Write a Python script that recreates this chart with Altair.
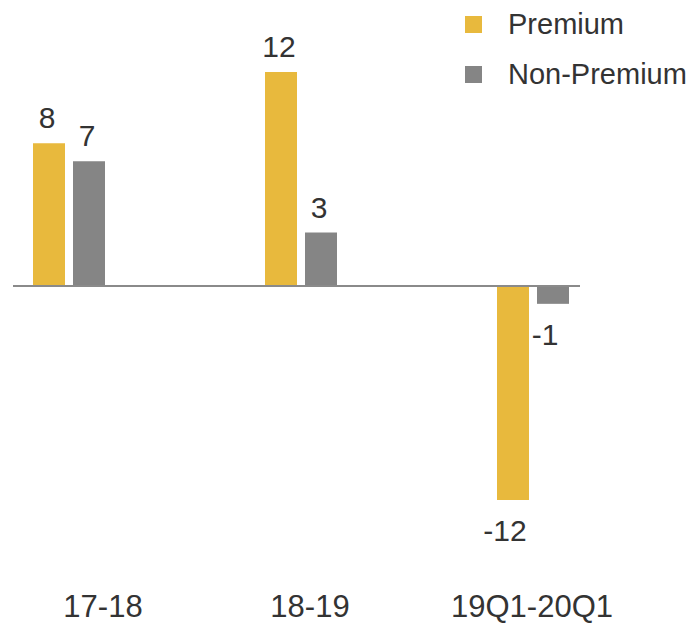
import altair as alt
import pandas as pd

categories = ["17-18", "18-19", "19Q1-20Q1"]
series = ["Premium", "Non-Premium"]
premium = [8, 12, -12]
non_premium = [7, 3, -1]
colors = ["#E8B93D", "#858585"]

rows = []
for c, p, n in zip(categories, premium, non_premium):
    rows.append({"cat": c, "series": "Premium", "value": p})
    rows.append({"cat": c, "series": "Non-Premium", "value": n})
df = pd.DataFrame(rows)

FONT = "Liberation Sans"
TEXT = "#333333"

# step 232 px, band 72 px (two 32 px bars with 8 px gap)
PI = 160 / 232
xs = alt.Scale(domain=categories, range=[-47, 649], paddingInner=PI, paddingOuter=PI / 2)
xo = alt.Scale(domain=series, paddingInner=0.2, paddingOuter=0)
ys = alt.Scale(domain=[-12, 12], range=[500, 72], nice=False)

base = alt.Chart(df).encode(
    x=alt.X("cat:N", scale=xs, axis=None, sort=categories),
    xOffset=alt.XOffset("series:N", scale=xo, sort=series),
    y=alt.Y("value:Q", scale=ys, axis=None),
)

bars = base.mark_bar().encode(
    color=alt.Color(
        "series:N",
        scale=alt.Scale(domain=series, range=colors),
        sort=series,
        legend=alt.Legend(
            orient="none",
            legendX=459,
            legendY=10,
            title=None,
            symbolType="square",
            symbolSize=289,
            symbolStrokeWidth=0,
            symbolOpacity=1,
            labelFont=FONT,
            labelFontSize=29,
            labelColor=TEXT,
            labelOffset=20,
            labelLimit=0,
            rowPadding=20,
            padding=0,
        ),
    )
)

labelled = base.transform_calculate(label="'' + datum.value")

pos_labels = labelled.mark_text(
    font=FONT, fontSize=30, color=TEXT, baseline="alphabetic", dy=-15, dx=-2
).transform_filter("datum.value >= 0").encode(text="label:N")

neg_labels = labelled.mark_text(
    font=FONT, fontSize=30, color=TEXT, baseline="alphabetic", dy=41, dx=-8
).transform_filter("datum.value < 0").encode(text="label:N")

zero = alt.Chart(pd.DataFrame({"z": [0]})).mark_rule(
    color="#8a8a8a", strokeWidth=2
).encode(
    y=alt.Y("z:Q", scale=ys, axis=None),
    x=alt.value(13),
    x2=alt.value(580),
)

# category labels sit slightly off the group centres in the reference
label_dx = [34, 9, -1]
cat_layers = []
for cat, dx in zip(categories, label_dx):
    cat_layers.append(
        alt.Chart(pd.DataFrame({"cat": [cat]})).mark_text(
            font=FONT, fontSize=31, color=TEXT, baseline="alphabetic", dx=dx
        ).encode(
            x=alt.X("cat:N", scale=xs, axis=None, sort=categories),
            y=alt.value(617),
            text="cat:N",
        )
    )

chart = alt.layer(bars, zero, pos_labels, neg_labels, *cat_layers).properties(
    width=687,
    height=623,
    autosize=alt.AutoSizeParams(type="none"),
    padding=0,
    background="white",
).configure_view(stroke=None)

chart.save("out.html", embed_options={"renderer": "svg", "actions": False})
